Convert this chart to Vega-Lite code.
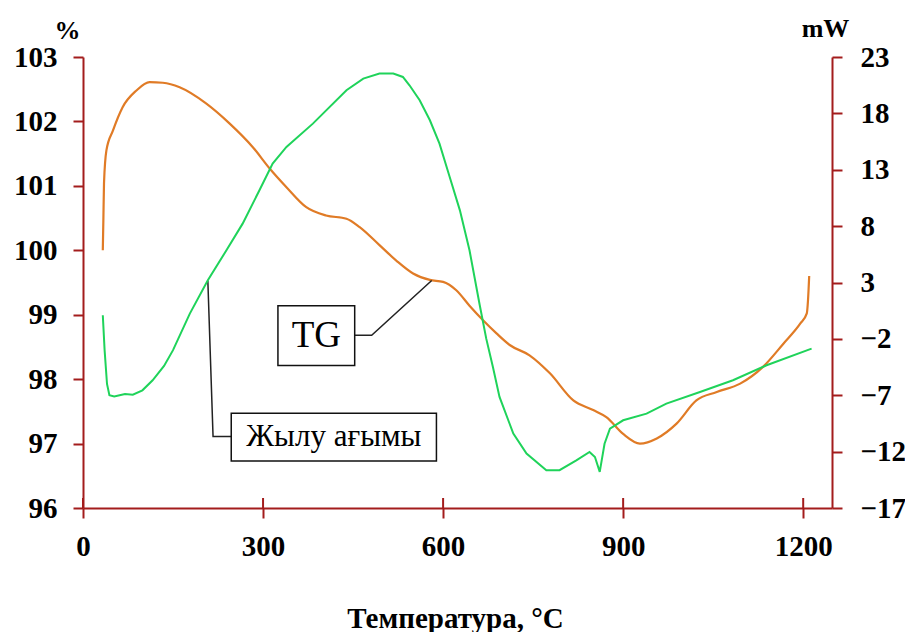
{
  "$schema": "https://vega.github.io/schema/vega-lite/v6.json",
  "width": 749,
  "height": 451,
  "autosize": "none",
  "padding": {"left": 83, "top": 57, "right": 73, "bottom": 124},
  "background": "white",
  "config": {
    "view": {"stroke": null},
    "font": "Liberation Serif, Times New Roman, DejaVu Serif, serif",
    "text": {"font": "Liberation Serif, Times New Roman, DejaVu Serif, serif"},
    "axis": {
      "grid": false,
      "domainColor": "#a31c1c",
      "tickColor": "#a31c1c",
      "domainWidth": 2,
      "tickWidth": 2,
      "tickSize": 10,
      "labelFont": "Liberation Serif, Times New Roman, DejaVu Serif, serif",
      "labelFontWeight": "bold",
      "labelFontSize": 29,
      "labelColor": "#000000",
      "titleFont": "Liberation Serif, Times New Roman, DejaVu Serif, serif",
      "titleFontWeight": "bold",
      "titleColor": "#000000"
    }
  },
  "datasets": {
    "tg": [
      {"T": 33, "v": 100.0}, {"T": 34, "v": 100.5}, {"T": 35, "v": 101.04}, {"T": 39, "v": 101.55},
      {"T": 50, "v": 101.86}, {"T": 66, "v": 102.22}, {"T": 89, "v": 102.48}, {"T": 111, "v": 102.61},
      {"T": 133, "v": 102.6}, {"T": 161, "v": 102.53}, {"T": 205, "v": 102.28}, {"T": 244, "v": 101.97},
      {"T": 283, "v": 101.6}, {"T": 311, "v": 101.27}, {"T": 339, "v": 100.98}, {"T": 372, "v": 100.67},
      {"T": 405, "v": 100.54}, {"T": 439, "v": 100.49}, {"T": 461, "v": 100.36}, {"T": 494, "v": 100.08},
      {"T": 522, "v": 99.84}, {"T": 550, "v": 99.64}, {"T": 578, "v": 99.54}, {"T": 600, "v": 99.51},
      {"T": 622, "v": 99.38}, {"T": 644, "v": 99.14}, {"T": 667, "v": 98.91}, {"T": 689, "v": 98.71},
      {"T": 711, "v": 98.53}, {"T": 744, "v": 98.37}, {"T": 778, "v": 98.09}, {"T": 817, "v": 97.67},
      {"T": 850, "v": 97.52}, {"T": 872, "v": 97.41}, {"T": 900, "v": 97.15}, {"T": 928, "v": 97.0},
      {"T": 956, "v": 97.08}, {"T": 989, "v": 97.31}, {"T": 1022, "v": 97.67}, {"T": 1056, "v": 97.8},
      {"T": 1095, "v": 97.93}, {"T": 1133, "v": 98.19}, {"T": 1167, "v": 98.55}, {"T": 1195, "v": 98.86},
      {"T": 1206, "v": 99.02}, {"T": 1208, "v": 99.22}, {"T": 1210, "v": 99.6}
    ],
    "hf": [
      {"T": 33, "mW": 0.1}, {"T": 36, "mW": -3}, {"T": 40, "mW": -6}, {"T": 44, "mW": -7.0},
      {"T": 52, "mW": -7.1}, {"T": 61, "mW": -7.0}, {"T": 70, "mW": -6.9}, {"T": 83, "mW": -6.95},
      {"T": 99, "mW": -6.56}, {"T": 116, "mW": -5.67}, {"T": 135, "mW": -4.4}, {"T": 150, "mW": -3.0},
      {"T": 178, "mW": 0.24}, {"T": 208, "mW": 3.2}, {"T": 239, "mW": 5.86}, {"T": 266, "mW": 8.22},
      {"T": 294, "mW": 11.18}, {"T": 316, "mW": 13.55}, {"T": 339, "mW": 15.02}, {"T": 383, "mW": 17.09},
      {"T": 439, "mW": 20.05}, {"T": 467, "mW": 21.08}, {"T": 494, "mW": 21.53}, {"T": 517, "mW": 21.53},
      {"T": 533, "mW": 21.23}, {"T": 544, "mW": 20.49}, {"T": 561, "mW": 19.16}, {"T": 578, "mW": 17.39},
      {"T": 594, "mW": 15.32}, {"T": 611, "mW": 12.36}, {"T": 628, "mW": 9.4}, {"T": 644, "mW": 5.86},
      {"T": 661, "mW": 1.0}, {"T": 672, "mW": -2.0}, {"T": 683, "mW": -4.49}, {"T": 694, "mW": -7.15},
      {"T": 717, "mW": -10.4}, {"T": 739, "mW": -12.17}, {"T": 772, "mW": -13.65}, {"T": 794, "mW": -13.65},
      {"T": 822, "mW": -12.77}, {"T": 844, "mW": -12.03}, {"T": 853, "mW": -12.48}, {"T": 861, "mW": -13.8},
      {"T": 869, "mW": -11.3}, {"T": 878, "mW": -9.96}, {"T": 900, "mW": -9.22}, {"T": 939, "mW": -8.63},
      {"T": 972, "mW": -7.74}, {"T": 1028, "mW": -6.71}, {"T": 1083, "mW": -5.67}, {"T": 1139, "mW": -4.34},
      {"T": 1214, "mW": -2.86}
    ],
    "boxes": [
      {"x1": 324.8, "x2": 452.7, "y1": 99.14, "y2": 98.21},
      {"x1": 247, "x2": 588.9, "y1": 97.47, "y2": 96.73}
    ],
    "leaders": [
      {"id": "TG", "k": 1, "T": 452.7, "v": 98.68},
      {"id": "TG", "k": 2, "T": 481, "v": 98.68},
      {"id": "TG", "k": 3, "T": 581, "v": 99.53},
      {"id": "HF", "k": 1, "T": 208, "v": 99.53},
      {"id": "HF", "k": 2, "T": 216.7, "v": 97.11},
      {"id": "HF", "k": 3, "T": 247, "v": 97.11}
    ],
    "labels": [
      {"T": 388.7, "v": 98.67, "text": "TG", "size": 37},
      {"T": 418, "v": 97.1, "text": "Жылу ағымы", "size": 31}
    ],
    "xticks": [{"T": 0}, {"T": 300}, {"T": 600}, {"T": 900}, {"T": 1200}]
  },
  "layer": [
    {
      "layer": [
        {
          "data": {"name": "tg"},
          "mark": {"type": "line", "color": "#e07b26", "strokeWidth": 2.2, "interpolate": "monotone"},
          "encoding": {
            "x": {
              "field": "T", "type": "quantitative",
              "scale": {"domain": [0, 1248], "nice": false},
              "axis": {
                "values": [0, 300, 600, 900, 1200],
                "format": "d",
                "title": "Температура, °C",
                "titleFontSize": 29,
                "titleX": 372,
                "titleY": 110,
                "titleBaseline": "middle",
                "titleAlign": "center",
                "labelPadding": 14,
                "labelFlush": false
              }
            },
            "y": {
              "field": "v", "type": "quantitative",
              "scale": {"domain": [96, 103], "nice": false, "zero": false},
              "axis": {
                "values": [96, 97, 98, 99, 100, 101, 102, 103],
                "format": "d",
                "title": "%",
                "titleAngle": 0,
                "titleX": -16,
                "titleY": -27,
                "titleAlign": "center",
                "titleBaseline": "middle",
                "titleFontSize": 26,
                "labelPadding": 16
              }
            }
          }
        },
        {
          "data": {"name": "xticks"},
          "mark": {"type": "rule", "color": "#a31c1c", "strokeWidth": 2},
          "encoding": {
            "x": {"field": "T", "type": "quantitative"},
            "y": {"datum": 96},
            "y2": {"datum": 96.155}
          }
        },
        {
          "data": {"name": "leaders"},
          "mark": {"type": "line", "color": "#222222", "strokeWidth": 1.5},
          "encoding": {
            "x": {"field": "T", "type": "quantitative"},
            "y": {"field": "v", "type": "quantitative"},
            "detail": {"field": "id"},
            "order": {"field": "k"}
          }
        },
        {
          "data": {"name": "boxes"},
          "mark": {"type": "rect", "fill": "white", "stroke": "#111111", "strokeWidth": 1.5},
          "encoding": {
            "x": {"field": "x1", "type": "quantitative"},
            "x2": {"field": "x2"},
            "y": {"field": "y1", "type": "quantitative"},
            "y2": {"field": "y2"}
          }
        },
        {
          "data": {"name": "labels"},
          "mark": {"type": "text", "color": "#000000", "align": "center", "baseline": "middle"},
          "encoding": {
            "x": {"field": "T", "type": "quantitative"},
            "y": {"field": "v", "type": "quantitative"},
            "text": {"field": "text"},
            "size": {"field": "size", "type": "quantitative", "scale": null}
          }
        }
      ]
    },
    {
      "data": {"name": "hf"},
      "mark": {"type": "line", "color": "#1fd35a", "strokeWidth": 2},
      "encoding": {
        "x": {"field": "T", "type": "quantitative"},
        "y": {
          "field": "mW", "type": "quantitative",
          "scale": {"domain": [-17, 23], "nice": false, "zero": false},
          "axis": {
            "orient": "right",
            "values": [-17, -12, -7, -2, 3, 8, 13, 18, 23],
            "format": "d",
            "title": "mW",
            "titleAngle": 0,
            "titleX": -7,
            "titleY": -29,
            "titleAlign": "center",
            "titleBaseline": "middle",
            "titleFontSize": 26,
            "labelPadding": 18
          }
        }
      }
    }
  ],
  "resolve": {"scale": {"y": "independent"}}
}
